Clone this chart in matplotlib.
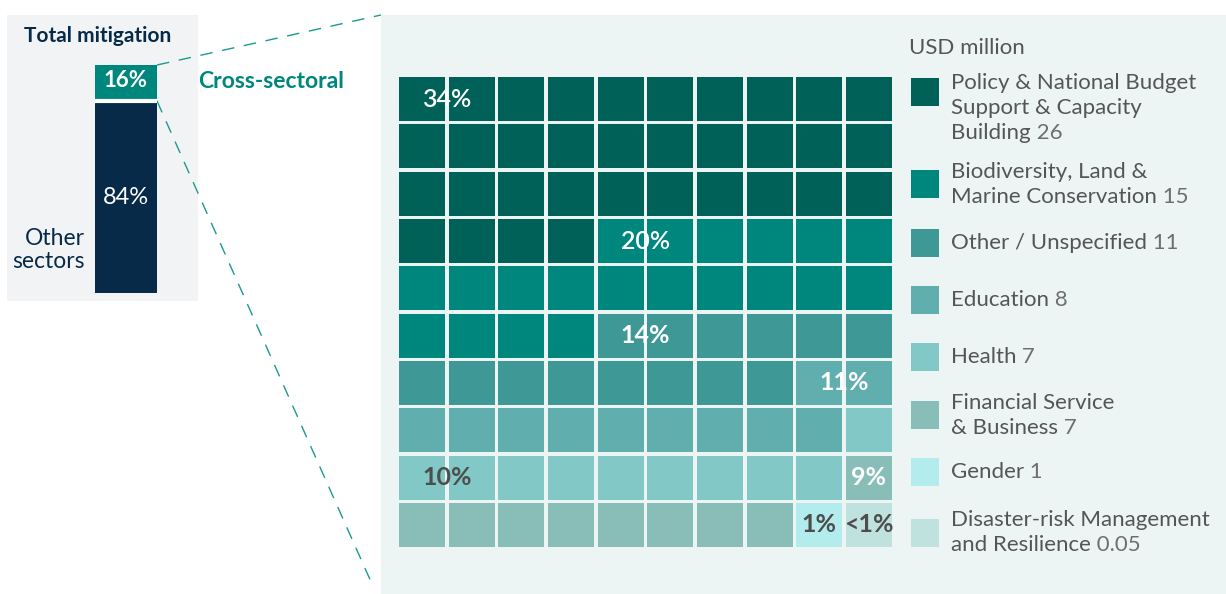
import numpy as np
import matplotlib
matplotlib.use("Agg")
import matplotlib.pyplot as plt
from matplotlib.patches import Rectangle

plt.rcParams['font.family'] = ['Lato', 'DejaVu Sans']

# Share of total mitigation
split_labels = ['Other sectors', 'Cross-sectoral']
split_shares = [84, 16]

# Cross-sectoral breakdown (cells out of 100, USD million)
categories = [
    'Policy & National Budget\nSupport & Capacity\nBuilding',
    'Biodiversity, Land &\nMarine Conservation',
    'Other / Unspecified',
    'Education',
    'Health',
    'Financial Service\n& Business',
    'Gender',
    'Disaster-risk Management\nand Resilience',
]
usd_values = ['26', '15', '11', '8', '7', '7', '1', '0.05']
cell_counts = [34, 20, 14, 11, 10, 9, 1, 1]
pct_labels = ['34%', '20%', '14%', '11%', '10%', '9%', '1%', '<1%']

colors = ['#006159', '#00877d', '#3e9896', '#61aeaf',
          '#82c8c7', '#89bdb8', '#b2ecec', '#c0e2df']
pct_colors = ['white', 'white', 'white', 'white',
              '#4d4d4d', 'white', '#4d4d4d', '#4d4d4d']

NAVY = '#062a48'
TEAL = '#00877d'
W, H = 1226, 594

fig = plt.figure(figsize=(W / 100, H / 100), dpi=100)
fig.patch.set_facecolor('white')

# background layer in pixel coordinates
bg = fig.add_axes([0, 0, 1, 1])
bg.set_xlim(0, W)
bg.set_ylim(H, 0)
bg.axis('off')
bg.add_patch(Rectangle((7, 15), 191, 286, facecolor='#f2f3f5', edgecolor='none'))
bg.add_patch(Rectangle((381, 15), W - 381, H - 15, facecolor='#edf5f4', edgecolor='none'))
bg.plot([157, 381], [65, 15], color='#1a9a90', lw=1, dashes=(9, 7))
bg.plot([157, 372], [101, 584], color='#1a9a90', lw=1, dashes=(9, 7))

bg.text(98, 36, 'Total mitigation', ha='center', va='center',
        fontsize=15, fontweight='bold', color=NAVY)
bg.text(198, 82, split_labels[1], ha='left', va='center',
        fontsize=16.5, fontweight='bold', color=TEAL)
bg.text(85, 250, 'Other\nsectors', ha='right', va='center',
        fontsize=16.5, color=NAVY, linespacing=1.1)

# stacked bar
axb = fig.add_axes([95 / W, (H - 293) / H, 62 / W, 228 / H])
axb.set_xlim(-0.5, 0.5)
axb.set_ylim(0, 100)
axb.axis('off')
axb.bar(0, split_shares[0], width=1, color=NAVY)
axb.bar(0, split_shares[1], bottom=split_shares[0], width=1, color=TEAL)
axb.axhline(split_shares[0], color='white', lw=3)
axb.text(0, split_shares[0] / 2, f'{split_shares[0]}%', ha='center', va='center',
         fontsize=17, color='white')
axb.text(0, split_shares[0] + split_shares[1] / 2 + 1, f'{split_shares[1]}%',
         ha='center', va='center', fontsize=16, fontweight='bold', color='white')

# waffle grid
axw = fig.add_axes([399 / W, (H - 547) / H, 493 / W, 470 / H])
gap = 0.07
axw.set_xlim(gap / 2, 10 - gap / 2)
axw.set_ylim(10 - gap / 2, gap / 2)
axw.axis('off')

owner = np.repeat(np.arange(len(cell_counts)), cell_counts)
for idx, cat in enumerate(owner):
    r, c = divmod(idx, 10)
    axw.add_patch(Rectangle((c + gap / 2, r + gap / 2), 1 - gap, 1 - gap,
                            facecolor=colors[cat], edgecolor='none'))

starts = np.concatenate([[0], np.cumsum(cell_counts)[:-1]])
for k, start in enumerate(starts):
    r, c = divmod(int(start), 10)
    # a category starting in the last column gets its label on the next row
    if c == 9 and cell_counts[k] >= 10:
        r, c = r + 1, 0
    nxt = r * 10 + c + 1
    span = 2 if c < 9 and nxt < 100 and owner[nxt] == k else 1
    x = c + span / 2
    weight = 'semibold' if k < 2 else 'bold'
    axw.text(x, r + 0.5, pct_labels[k], ha='center', va='center',
             fontsize=18, fontweight=weight, color=pct_colors[k])

# legend
bg.text(909, 48, 'USD million', ha='left', va='center', fontsize=16, color='#555555')
square_y = [92, 184, 243, 300, 357, 415, 472, 533]
text_y = [83, 172, 243, 300, 357, 403, 472, 520]
for k, name in enumerate(categories):
    bg.add_patch(Rectangle((911, square_y[k] - 14), 28, 28,
                           facecolor=colors[k], edgecolor='none'))
    lines = name.split('\n')
    last = None
    for i, line in enumerate(lines):
        last = bg.text(951, text_y[k] + i * 25, line, ha='left', va='center',
                       fontsize=16, color='#555555')
    bg.annotate(' ' + usd_values[k], xy=(1, 0.5), xycoords=last,
                ha='left', va='center', fontsize=16, color='#6e6e6e')

fig.savefig('out.png', dpi=100, facecolor='white')
